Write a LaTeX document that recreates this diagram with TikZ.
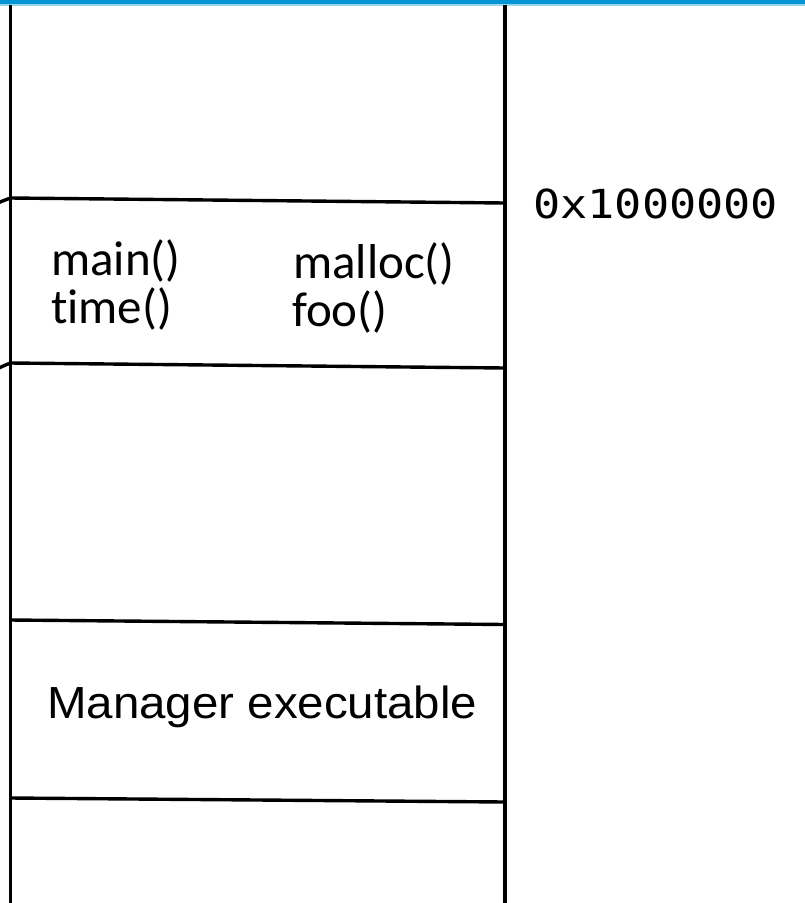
\documentclass[tikz,border=0pt]{standalone}
\usepackage{fontspec}
\newfontfamily\calfont[Ligatures=NoCommon]{Carlito}
\newfontfamily\arifont{Liberation Sans}
\newfontfamily\monofont{DejaVu Sans Mono}
\definecolor{topblue}{RGB}{0,150,214}
\begin{document}
\begin{tikzpicture}[x=1pt,y=-1pt,
  wall/.style={line width=3.4pt,black},
  sep/.style={line width=3.4pt,black},
  lbl/.style={inner sep=0pt,anchor=base west},
  fn/.style={lbl,font=\calfont\fontsize{49}{52}\selectfont},
  seg/.style={lbl,font=\arifont\fontsize{45}{50}\selectfont},
  addr/.style={lbl,font=\monofont\fontsize{40}{48}\selectfont}]
\useasboundingbox (0,0) rectangle (805,903);
\clip (0,0) rectangle (805,903);
% top rule
\fill[topblue] (0,0) rectangle (805,4);
\fill[topblue!40] (0,4) rectangle (805,5.5);
% stack walls
\coordinate (lt) at (10.5,5);
\coordinate (lb) at (10.5,903);
\coordinate (rt) at (505,5);
\coordinate (rb) at (505,903);
\draw[wall] (lt) -- (lb);
\draw[wall] (rt) -- (rb);
% region boundaries
\coordinate (a1) at (10.5,198);  \coordinate (b1) at (505,203);
\coordinate (a2) at (10.5,363);  \coordinate (b2) at (505,368);
\coordinate (a3) at (10.5,620);  \coordinate (b3) at (505,624.5);
\coordinate (a4) at (10.5,798);  \coordinate (b4) at (505,802);
\draw[sep] (a1) -- (b1);
\draw[sep] (a2) -- (b2);
\draw[sep] (a3) -- (b3);
\draw[sep] (a4) -- (b4);
% incoming links from the left
\coordinate (s1) at (-20,210);
\coordinate (s2) at (-20,377);
\draw[sep] (s1) to[out=20,in=200] (a1);
\draw[sep] (s2) to[out=20,in=200] (a2);
% labels
\node[fn] (main) at (51,275) {main()};
\node[fn] (time) at (51,323) {time()};
\node[fn] (malloc) at (293,278) {malloc()};
\node[fn] (foo) at (292,326) {foo()};
\node[seg] (mgr) at (47,718) {\scalebox{1.055}[1]{Manager executable}};
\node[addr] (base) at (533,218) {\scalebox{1.13}[1]{0x1000000}};
\end{tikzpicture}
\end{document}
